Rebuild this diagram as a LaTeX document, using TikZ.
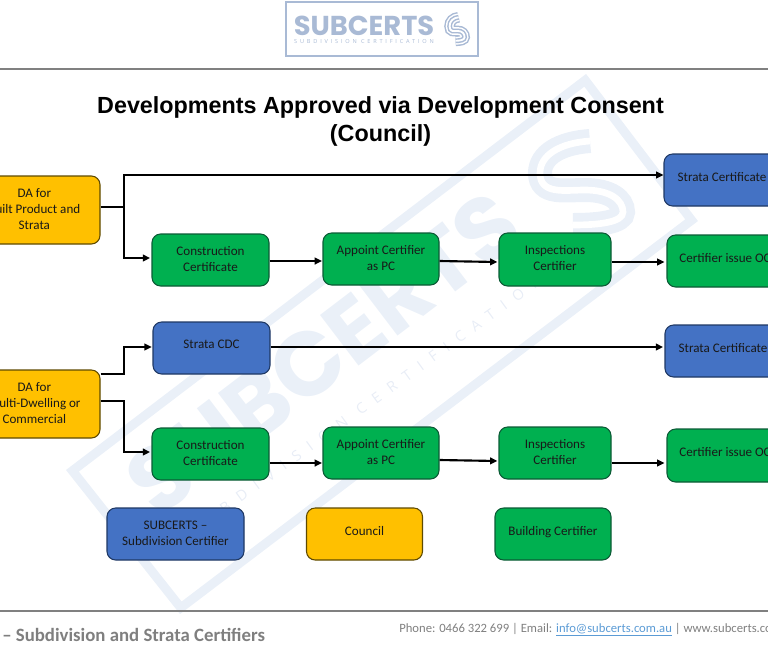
\documentclass[tikz,border=0pt]{standalone}
\usepackage{fontspec}
\setmainfont{Carlito}
\newfontfamily\titlefont{Liberation Sans}
\newfontfamily\wmfont{Poppins}
\newfontfamily\wmsmall[LetterSpace=70]{Open Sans}
\newfontfamily\logosmall[LetterSpace=50]{Open Sans}
\usetikzlibrary{arrows.meta}
\definecolor{bluefill}{HTML}{4472C4}\definecolor{blueedge}{HTML}{1F3864}
\definecolor{greenfill}{HTML}{00B050}\definecolor{greenedge}{HTML}{0B5A35}
\definecolor{yellowfill}{HTML}{FFC000}\definecolor{yellowedge}{HTML}{5F4A00}
\definecolor{wm}{HTML}{EAF0F8}\definecolor{wmlight}{HTML}{E8EDF6}
\definecolor{logoblue}{HTML}{A9BAD5}\definecolor{rulegray}{HTML}{808080}
\definecolor{foot}{HTML}{7F7F7F}\definecolor{linkblue}{HTML}{5B9BD5}
\newcommand{\Spath}{(9,-42) .. controls (-21,-40) and (-41,-28) .. (-41,-10) .. controls (-41,12) and (-16,7) .. (4,7) .. controls (29,7) and (42,17) .. (42,29) .. controls (42,39) and (19,42) .. (-8,42)}
\newcommand{\tb}[2]{\raisebox{#1}{\begin{tabular}[c]{@{}c@{}}#2\end{tabular}}}
\tikzset{
  x=0.75pt,y=-0.75pt,
  bsize/.style 2 args={minimum width=#1*0.75pt,minimum height=#2*0.75pt},
  bbox/.style={draw,rounded corners=6.5pt,line width=.8pt,inner sep=0pt,font=\fontsize{9.8}{12}\selectfont,text=black!90},
  bluebox/.style={bbox,fill=bluefill,draw=blueedge},
  greenbox/.style={bbox,fill=greenfill,draw=greenedge},
  yellowbox/.style={bbox,fill=yellowfill,draw=yellowedge},
  conn/.style={draw=black,line width=1.6pt,-{Triangle[length=5.5pt,width=5pt]}},
  plainconn/.style={draw=black,line width=1.6pt},
  hrule/.style={draw=rulegray,line width=1.5pt},
}
\begin{document}
\begin{tikzpicture}
\useasboundingbox (0,0) rectangle (768,658);
\clip (0,0) rectangle (768,658);
% watermark
\draw[wm,line width=6.8pt,line join=miter] (72.4,470.8) -- (585.2,80.3) -- (691.6,220.2) -- (180.8,607.8) -- cycle;
\begin{scope}[shift={(581,183)}]
\draw[wm,line width=18pt] \Spath;
\draw[white,line width=5pt] \Spath;
\end{scope}
\node[rotate=37.3,text=wm,font=\wmfont\bfseries\fontsize{68}{68}\selectfont,inner sep=0pt] (wmtext) at (323,353) {SUBCERTS};
\node[rotate=36,text=wmlight,font=\wmsmall\fontsize{11}{11}\selectfont,inner sep=0pt] (wmsub) at (365,406) {SUBDIVISION CERTIFICATION};
% logo
\node[draw=logoblue,line width=2.2pt,bsize={192}{54},inner sep=0pt] (logo) at (382,29) {};
\node[text=logoblue,font=\wmfont\bfseries\fontsize{20.5}{23}\selectfont,inner sep=0pt] (logotext) at (364,26) {SUBCERTS};
\node[text=logoblue,font=\logosmall\fontsize{4.2}{5}\selectfont,inner sep=0pt] (logosub) at (364,41) {SUBDIVISION CERTIFICATION};
\begin{scope}[shift={(457,29)},xscale=.18,yscale=.28]
\draw[logoblue,line width=8pt] \Spath;
\draw[white,line width=5.8pt] \Spath;
\draw[logoblue,line width=3.6pt] \Spath;
\draw[white,line width=1.4pt] \Spath;
\end{scope}
% rules
\coordinate (hl) at (0,69); \coordinate (hr) at (768,69);
\coordinate (fl) at (0,611); \coordinate (fr) at (768,611);
\draw[hrule] (hl) -- (hr);
\draw[hrule] (fl) -- (fr);
% title
\node[font=\titlefont\bfseries\fontsize{17.5}{21}\selectfont,align=center,inner sep=0pt] (title) at (380.5,121) {Developments Approved via Development Consent\\(Council)};
% boxes
\node[yellowbox,bsize={134}{68}] (da1) at (33,210) {\tb{1.5pt}{\hspace*{2pt}DA for\\\hspace*{2pt}Built Product and\\\hspace*{2pt}Strata}};
\node[yellowbox,bsize={134}{68}] (da2) at (33,404) {\tb{0pt}{\hspace*{2pt}DA for\\\hspace*{2pt}Multi-Dwelling or\\\hspace*{2pt}Commercial}};
\node[greenbox,bsize={117}{52}] (cc1) at (210.5,260) {\tb{2.7pt}{Construction\\Certificate}};
\node[greenbox,bsize={116}{52}] (ap1) at (381,259) {\tb{2.7pt}{Appoint Certifier\\as PC}};
\node[greenbox,bsize={112}{53}] (in1) at (555,259.5) {\tb{2.7pt}{Inspections\\Certifier}};
\node[greenbox,bsize={116}{52}] (oc1) at (725,261) {\raisebox{4.7pt}{Certifier issue OC}};
\node[bluebox,bsize={116}{52}] (sc1) at (722,180) {\raisebox{5.2pt}{Strata Certificate}};
\node[bluebox,bsize={117}{52}] (cdc) at (211.5,348) {\raisebox{5.2pt}{Strata CDC}};
\node[bluebox,bsize={116}{52}] (sc2) at (723,351) {\raisebox{5.2pt}{Strata Certificate}};
\node[greenbox,bsize={117}{52}] (cc2) at (210.5,454) {\tb{2.7pt}{Construction\\Certificate}};
\node[greenbox,bsize={116}{52}] (ap2) at (381,453) {\tb{2.7pt}{Appoint Certifier\\as PC}};
\node[greenbox,bsize={112}{52}] (in2) at (555,453) {\tb{2.7pt}{Inspections\\Certifier}};
\node[greenbox,bsize={116}{53}] (oc2) at (725,455.5) {\raisebox{4.7pt}{Certifier issue OC}};
\node[bluebox,bsize={137}{52}] (lg1) at (175.5,534) {\tb{2.7pt}{SUBCERTS --\\Subdivision Certifier}};
\node[yellowbox,bsize={116}{52}] (lg2) at (364.5,534) {\raisebox{5.2pt}{Council}};
\node[greenbox,bsize={116}{52}] (lg3) at (553,534) {\raisebox{5.2pt}{Building Certifier}};
% connector helpers
\coordinate (j1) at (124,207);
\coordinate (t1) at (0,175);
\coordinate (t2) at (0,258);
\coordinate (j2) at (124,374);
\coordinate (t3) at (0,347);
\coordinate (j3) at (124,401);
\coordinate (t4) at (0,452);
\coordinate (r1) at (0,261);
\coordinate (r2a) at (0,261);\coordinate (r2b) at (0,262);
\coordinate (r3) at (0,262);
\coordinate (r4) at (0,463);
\coordinate (r5a) at (0,460);\coordinate (r5b) at (0,461);
\draw[plainconn] (da1.east |- j1) -- (j1);
\draw[conn] (j1) |- (sc1.west |- t1);
\draw[conn] (j1) |- ([xshift=-1pt]cc1.west |- t2);
\draw[conn] (da2.east |- j2) -- (j2) |- ([xshift=-.5pt]cdc.west |- t3);
\draw[conn] (da2.east |- j3) -- (j3) |- ([xshift=-1pt]cc2.west |- t4);
\draw[conn] (cc1.east |- r1) -- ([xshift=-.3pt]ap1.west |- r1);
\draw[conn] (ap1.east |- r2a) -- ([xshift=-.8pt]in1.west |- r2b);
\draw[conn] (in1.east |- r3) -- ([xshift=-1.5pt]oc1.west |- r3);
\draw[conn] (cdc.east |- t3) -- ([xshift=-1pt]sc2.west |- t3);
\draw[conn] (cc2.east |- r4) -- ([xshift=-.3pt]ap2.west |- r4);
\draw[conn] (ap2.east |- r5a) -- ([xshift=-.8pt]in2.west |- r5b);
\draw[conn] (in2.east |- r4) -- ([xshift=-1.5pt]oc2.west |- r4);
% footer
\node[anchor=west,text=foot,font=\bfseries\fontsize{14.1}{16}\selectfont,inner sep=0pt] (foot1) at (2,635) {-- Subdivision and Strata Certifiers};
\node[anchor=west,text=foot,font=\fontsize{9.5}{12}\selectfont,inner sep=0pt] (foot2) at (399,629.5) {Phone: 0466 322 699 | Email: \textcolor{linkblue}{\underline{info@subcerts.com.au}} | www.subcerts.com.au};
\end{tikzpicture}
\end{document}
